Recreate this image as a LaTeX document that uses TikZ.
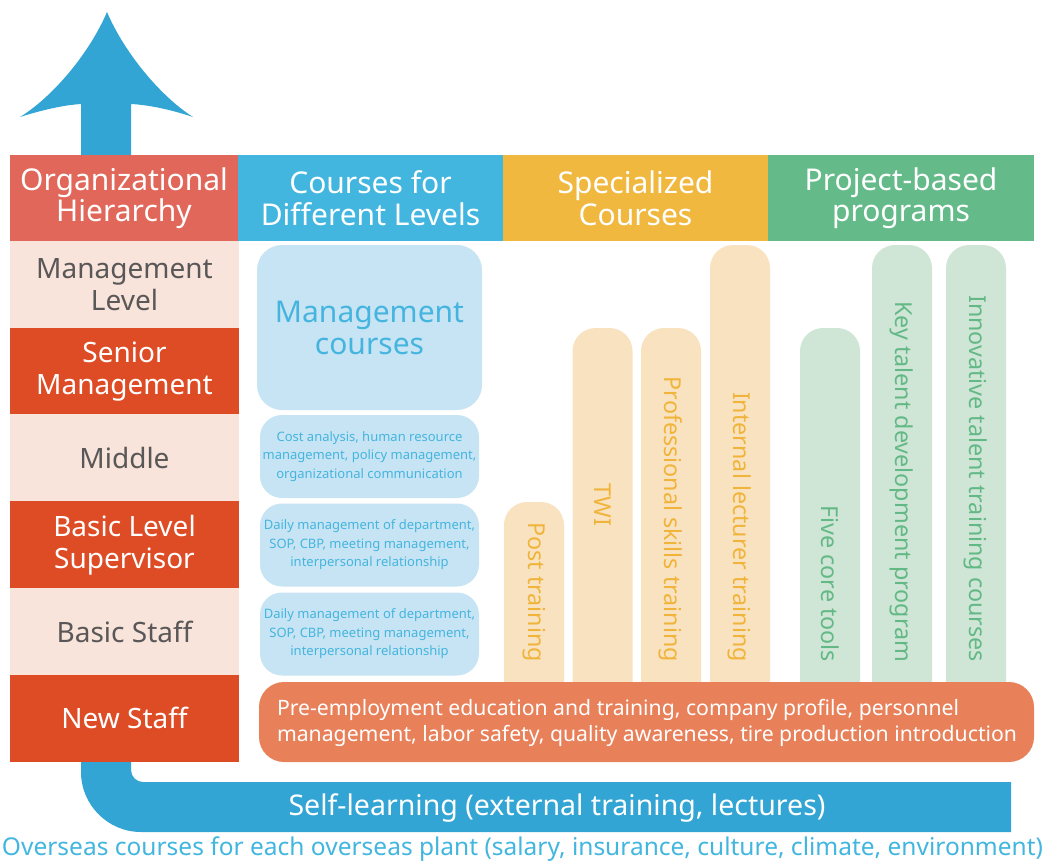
\documentclass[tikz,border=0pt]{standalone}
\usepackage{fontspec}
\setmainfont{Noto Sans}
\definecolor{orgred}{HTML}{E0675A}
\definecolor{crsblue}{HTML}{42B6DF}
\definecolor{spcyel}{HTML}{F0B83E}
\definecolor{prjgrn}{HTML}{65BA8A}
\definecolor{lightrow}{HTML}{F8E4DA}
\definecolor{darkrow}{HTML}{DE4C26}
\definecolor{rowtext}{HTML}{595757}
\definecolor{lightblue}{HTML}{C6E4F3}
\definecolor{bluetext}{HTML}{45B5DF}
\definecolor{lightorange}{HTML}{F8E2C0}
\definecolor{orangetext}{HTML}{F1B43A}
\definecolor{lightgreen}{HTML}{CFE5D6}
\definecolor{greentext}{HTML}{63B985}
\definecolor{newbar}{HTML}{E8805A}
\definecolor{arrowblue}{HTML}{33A5D4}
\begin{document}
\begin{tikzpicture}[x=1pt,y=-1pt,
  every node/.style={inner sep=0pt, outer sep=0pt},
  hdr/.style={fill=#1, text=white, minimum width=265, minimum height=86.5, align=center,
    font=\fontsize{30}{31.5}\selectfont},
  lrow/.style={fill=lightrow, text=rowtext, minimum width=229, minimum height=87.2, align=center,
    font=\fontsize{28}{32}\selectfont},
  drow/.style={fill=darkrow, text=white, minimum width=229, minimum height=87.2, align=center,
    font=\fontsize{28}{32}\selectfont},
  smallbox/.style={fill=lightblue, text=bluetext, rounded corners=22, minimum width=219,
    minimum height=83, align=center, font=\fontsize{13}{18.5}\selectfont},
  obar/.style={fill=lightorange, rounded corners=23, minimum width=60},
  gbar/.style={fill=lightgreen, rounded corners=23, minimum width=60},
  vtext/.style={rotate=-90, font=\fontsize{23.3}{26}\selectfont, text=#1},
]
\useasboundingbox (0,0) rectangle (1046,862);

% big blue arrow (drawn behind the left column)
\fill[arrowblue] (131,104) .. controls (150,105) and (172,110) .. (193,117)
  .. controls (160,96) and (124,52) .. (107,12)
  .. controls (90,52) and (54,96) .. (20,117)
  .. controls (42,110) and (64,105) .. (81,104)
  -- (81,772) .. controls (81,805) and (108,832) .. (141,832)
  -- (1011,832) -- (1011,782) -- (143,782)
  .. controls (136.4,782) and (131,776.6) .. (131,770) -- cycle;

% header
\node[hdr=orgred, minimum width=228.5] (orgh) at (124,198) {Organizational\\Hierarchy};
\node[hdr=crsblue] (crsh) at (370.5,198) {Courses for\\Different Levels};
\node[hdr=spcyel] (spch) at (635.5,198) {Specialized\\Courses};
\node[hdr=prjgrn, minimum width=266] (prjh) at (901,198) {Project-based\\programs};

% left column
\node[lrow] (r1) at (124.5,284.4) {Management\\Level};
\node[drow] (r2) at (124.5,371.2) {Senior\\Management};
\node[lrow] (r3) at (124.5,458.0) {Middle};
\node[drow] (r4) at (124.5,544.8) {Basic Level\\Supervisor};
\node[lrow] (r5) at (124.5,631.6) {Basic Staff};
\node[drow] (r6) at (124.5,718.4) {New Staff};

% courses for different levels
\node[smallbox, minimum width=225, minimum height=165, rounded corners=25,
  font=\fontsize{30}{32}\selectfont] (mgc) at (369.5,327.5) {Management\\courses};
\node[smallbox] (b2) at (369.5,456.5) {Cost analysis, human resource\\management, policy management,\\organizational communication};
\node[smallbox] (b3) at (369.5,545) {Daily management of department,\\SOP, CBP, meeting management,\\interpersonal relationship};
\node[smallbox] (b4) at (369.5,634) {Daily management of department,\\SOP, CBP, meeting management,\\interpersonal relationship};

% specialized bars
\node[obar, minimum height=210] (post) at (534,607) {};
\node[obar, minimum height=384] (twi) at (602.5,520) {};
\node[obar, minimum height=384] (prof) at (671,520) {};
\node[obar, minimum height=467] (intl) at (740,478.5) {};
% project bars
\node[gbar, minimum height=384] (five) at (830,520) {};
\node[gbar, minimum height=467] (key) at (902,478.5) {};
\node[gbar, minimum height=467] (innov) at (976,478.5) {};

\node[vtext=orangetext, anchor=east] (postt) at (534,662) {Post training};
\node[vtext=orangetext] (twit) at (602.5,505) {TWI};
\node[vtext=orangetext, anchor=east] (proft) at (671,662) {Professional skills training};
\node[vtext=orangetext, anchor=east] (intlt) at (740,662) {Internal lecturer training};
\node[vtext=greentext, anchor=east] (fivet) at (830,662) {Five core tools};
\node[vtext=greentext, anchor=east] (keyt) at (902,662) {Key talent development program};
\node[vtext=greentext, anchor=east] (innovt) at (976,662) {Innovative talent training courses};

% new staff bar
\node[fill=newbar, rounded corners=25, minimum width=775, minimum height=80] (nsb) at (646.5,722) {};
\node[anchor=west, text=white, align=left, font=\fontsize{21.2}{26}\selectfont] (nst) at (277,723)
  {Pre-employment education and training, company profile, personnel\\management, labor safety, quality awareness, tire production introduction};

% self-learning text
\node[text=white, font=\fontsize{28.5}{32}\selectfont] (self) at (557,808) {Self-learning (external training, lectures)};

% overseas
\node[text=crsblue, font=\fontsize{24.5}{28}\selectfont] (ovs) at (522.5,849) {Overseas courses for each overseas plant (salary, insurance, culture, climate, environment)};
\end{tikzpicture}
\end{document}
